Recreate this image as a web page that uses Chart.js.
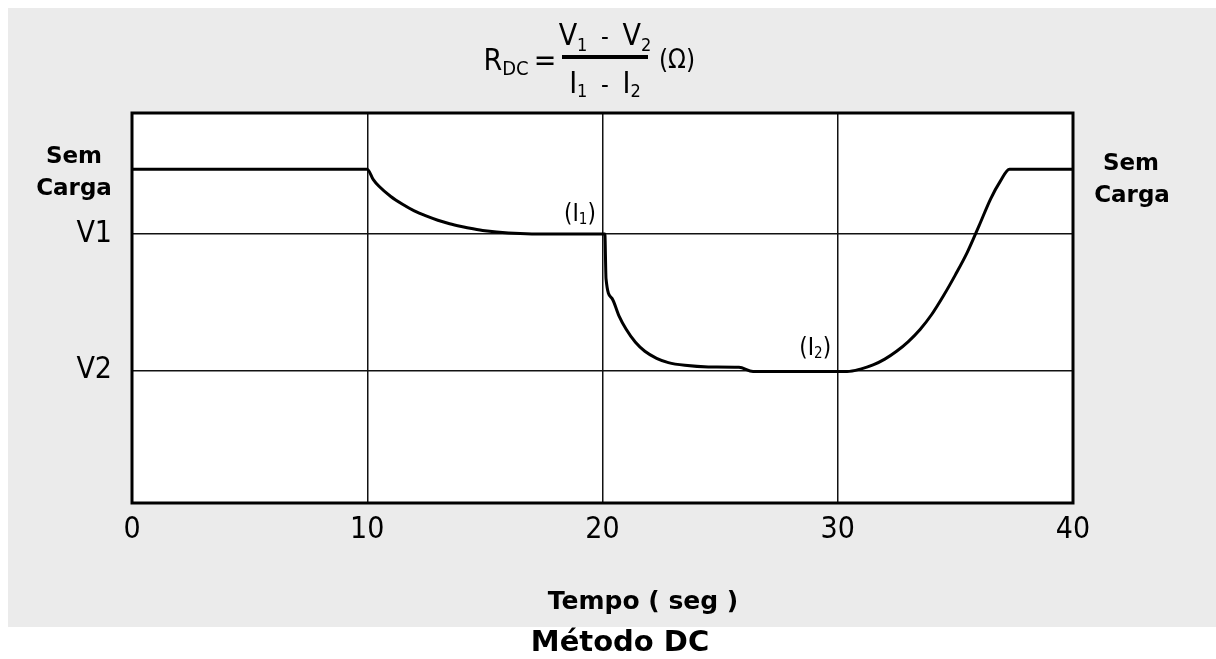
<!DOCTYPE html>
<html>
<head>
<meta charset="utf-8">
<script src="https://cdn.jsdelivr.net/npm/chart.js@4.4.1/dist/chart.umd.min.js"></script>
<style>
  html, body { margin: 0; padding: 0; background: #ffffff; }
  #wrap { position: absolute; left: 0; top: 0; width: 1216px; height: 659px; }
</style>
</head>
<body>
<div id="wrap"><canvas id="c" width="1216" height="659"></canvas></div>
<script>
// ---- data ----
const TIME = [0, 10, 10.25, 10.5, 11, 11.5, 12, 12.5, 13, 13.5, 14, 14.5, 15, 16, 17, 20,
              20.1, 20.15, 20.4, 20.7, 21.0, 21.4, 21.8, 22.3, 22.8, 23.5, 24.5, 25.8, 26.4, 30.4,
              31.0, 31.5, 32.0, 32.5, 33.0, 33.5, 34.0, 34.5, 35.0, 35.5, 36.0, 36.5, 36.9, 37.3, 40];
const VOLTAGE = [85.6, 85.6, 83.0, 81.2, 78.6, 76.6, 74.9, 73.6, 72.5, 71.6, 70.9, 70.3, 69.8, 69.2, 69.0, 69.0,
                 69.0, 57.5, 52.5, 48.0, 44.6, 41.2, 38.9, 37.1, 36.0, 35.3, 34.9, 34.8, 33.7, 33.7,
                 34.4, 35.4, 36.9, 38.9, 41.4, 44.5, 48.4, 53.2, 58.5, 64.2, 71.0, 78.0, 82.4, 85.6, 85.6];
const X_TICKS = [0, 10, 20, 30, 40];
const Y_TICK_VALUES = [34.0, 69.0];
const Y_TICK_LABELS = ['V2', 'V1'];
const NO_LOAD_LEVEL = 85.6;
const NO_LOAD_LABEL = ['Sem', 'Carga'];
const MARK_LABELS = [{ t: 19, v: 72.3, main: 'I', sub: '1' }, { t: 29, v: 38.0, main: 'I', sub: '2' }];
const X_TITLE = 'Tempo ( seg )';
const CAPTION = 'Método DC';

const NARROW = '"Liberation Sans Narrow", "DejaVu Sans Condensed", "Liberation Sans", sans-serif';
const BOLD = '"DejaVu Sans", Verdana, sans-serif';

const points = TIME.map((t, i) => ({ x: t, y: VOLTAGE[i] }));

function drawRich(ctx, parts, cx, baseline) {
  let total = 0;
  parts.forEach(p => { ctx.font = p.font; p.w = ctx.measureText(p.t).width; total += p.w; });
  let x = cx - total / 2;
  ctx.textBaseline = 'alphabetic';
  ctx.textAlign = 'left';
  parts.forEach(p => { ctx.font = p.font; ctx.fillText(p.t, x, baseline + (p.dy || 0)); x += p.w; });
}

const decor = {
  id: 'decor',
  beforeDraw(chart) {
    const ctx = chart.ctx, a = chart.chartArea;
    ctx.save();
    ctx.fillStyle = '#ebebeb';
    ctx.fillRect(8, 8, 1208, 619);
    ctx.fillStyle = '#ffffff';
    ctx.fillRect(a.left, a.top, a.right - a.left, a.bottom - a.top);
    ctx.restore();
  },
  afterDraw(chart) {
    const ctx = chart.ctx, a = chart.chartArea;
    const xs = chart.scales.x, ys = chart.scales.y;
    ctx.save();
    // frame
    ctx.strokeStyle = '#000';
    ctx.lineWidth = 3;
    ctx.strokeRect(a.left, a.top, a.right - a.left, a.bottom - a.top);
    ctx.fillStyle = '#000';
    // formula
    const big = '30px ' + NARROW, sub = '18px ' + NARROW;
    drawRich(ctx, [{ t: 'R', font: big }, { t: 'DC', font: '20px ' + NARROW, dy: 5 }], 506, 70);
    drawRich(ctx, [{ t: '=', font: big }], 545, 70);
    ctx.lineWidth = 4;
    ctx.beginPath(); ctx.moveTo(562, 57); ctx.lineTo(648, 57); ctx.stroke();
    drawRich(ctx, [{ t: 'V', font: big }, { t: '1', font: sub, dy: 6 }, { t: '  -  ', font: '24px ' + NARROW },
                   { t: 'V', font: big }, { t: '2', font: sub, dy: 6 }], 605, 45);
    drawRich(ctx, [{ t: 'I', font: big }, { t: '1', font: sub, dy: 4 }, { t: '  -  ', font: '24px ' + NARROW },
                   { t: 'I', font: big }, { t: '2', font: sub, dy: 4 }], 605, 93);
    drawRich(ctx, [{ t: '(Ω)', font: '26px ' + NARROW }], 677, 68);
    // marks (I1), (I2)
    MARK_LABELS.forEach(m => {
      drawRich(ctx, [{ t: '(', font: '24px ' + NARROW }, { t: m.main, font: '24px ' + NARROW },
                     { t: m.sub, font: '15px ' + NARROW, dy: 3 }, { t: ')', font: '24px ' + NARROW }],
               xs.getPixelForValue(m.t) + 1, ys.getPixelForValue(m.v));
    });
    // no-load labels
    const yl = ys.getPixelForValue(NO_LOAD_LEVEL);
    ctx.font = 'bold 23px ' + BOLD;
    ctx.textAlign = 'center';
    ctx.textBaseline = 'alphabetic';
    ctx.fillText(NO_LOAD_LABEL[0], 74, yl - 6);
    ctx.fillText(NO_LOAD_LABEL[1], 74, yl + 26);
    ctx.fillText(NO_LOAD_LABEL[0], 1131, yl + 1);
    ctx.fillText(NO_LOAD_LABEL[1], 1132, yl + 33);
    // axis title and caption
    ctx.font = 'bold 25px ' + BOLD;
    ctx.fillText(X_TITLE, 643, 609);
    ctx.font = 'bold 29px ' + BOLD;
    ctx.fillText(CAPTION, 620, 651);
    ctx.restore();
  }
};

new Chart(document.getElementById('c'), {
  type: 'line',
  data: {
    datasets: [{
      data: points,
      borderColor: '#000',
      borderWidth: 3,
      pointRadius: 0,
      fill: false,
      cubicInterpolationMode: 'monotone'
    }]
  },
  options: {
    responsive: false,
    animation: false,
    devicePixelRatio: 1,
    layout: { padding: { left: 0, right: 143, top: 113, bottom: 0 } },
    plugins: { legend: { display: false }, tooltip: { enabled: false }, title: { display: false } },
    scales: {
      x: {
        type: 'linear', min: 0, max: 40,
        afterFit(s) { s.height = 156; },
        afterBuildTicks(s) { s.ticks = X_TICKS.map(v => ({ value: v })); },
        grid: { color: '#111', lineWidth: 1.5, drawTicks: false },
        border: { display: false },
        ticks: { color: '#000', padding: 9, maxRotation: 0, font: { family: NARROW, size: 30 },
                 callback: v => String(v) }
      },
      y: {
        type: 'linear', min: 0, max: 100,
        afterFit(s) { s.width = 132; },
        afterBuildTicks(s) { s.ticks = Y_TICK_VALUES.map(v => ({ value: v })); },
        grid: { color: '#111', lineWidth: 1.5, drawTicks: false },
        border: { display: false },
        ticks: { color: '#000', padding: 20, font: { family: NARROW, size: 30 },
                 callback: (v) => Y_TICK_LABELS[Y_TICK_VALUES.indexOf(v)] }
      }
    }
  },
  plugins: [decor]
});
</script>
</body>
</html>
